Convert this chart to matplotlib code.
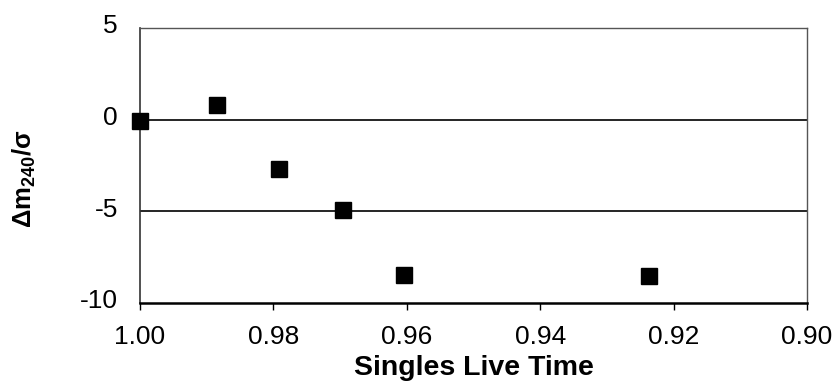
import matplotlib
matplotlib.use("Agg")
import matplotlib.pyplot as plt
import matplotlib.transforms as mtransforms

plt.rcParams['font.family'] = ['Liberation Sans', 'DejaVu Sans']
plt.rcParams['mathtext.fontset'] = 'custom'
plt.rcParams['mathtext.rm'] = 'Liberation Sans:bold'
plt.rcParams['mathtext.it'] = 'Liberation Sans:bold'
plt.rcParams['mathtext.bf'] = 'Liberation Sans:bold'

live_time = [1.000, 0.9885, 0.9792, 0.9696, 0.9604, 0.9237]
dm_sigma = [-0.05, 0.78, -2.70, -4.92, -8.45, -8.50]
x_ticks = [1.00, 0.98, 0.96, 0.94, 0.92, 0.90]
x_tick_labels = ["1.00", "0.98", "0.96", "0.94", "0.92", "0.90"]
y_ticks = [-10, -5, 0, 5]
y_tick_labels = ["-10", "-5", "0", "5"]

fig = plt.figure(figsize=(8.33, 3.83), dpi=100)
ax = fig.add_axes([140/833, 1-303/383, (807-140)/833, (303-28)/383])

for y in [0, -5]:
    ax.axhline(y, color='black', lw=1.2, zorder=1)

ax.plot(live_time, dm_sigma, linestyle='none', marker='s', markersize=12,
        color='black', clip_on=False, zorder=3)

ax.set_xlim(1.00, 0.90)
ax.set_ylim(-10, 5)
ax.set_xticks(x_ticks)
ax.set_xticklabels(x_tick_labels, fontsize=19)
ax.set_yticks(y_ticks)
ax.set_yticklabels(y_tick_labels, fontsize=19)
ax.tick_params(axis='x', direction='out', length=5, width=1, pad=11)
ax.tick_params(axis='y', length=0, pad=16)

offset = mtransforms.ScaledTranslation(0, 4/100, fig.dpi_scale_trans)
for lab in ax.get_yticklabels():
    lab.set_transform(lab.get_transform() + offset)

for side in ['top', 'right']:
    ax.spines[side].set_color('#555555')
    ax.spines[side].set_linewidth(1.0)
ax.spines['left'].set_color('#333333')
ax.spines['left'].set_linewidth(1.2)
ax.spines['bottom'].set_color('black')
ax.spines['bottom'].set_linewidth(1.8)

ax.set_xlabel('Singles Live Time', fontsize=20.5, fontweight='bold')
ax.xaxis.set_label_coords(0.5, -0.19)
ax.xaxis.label.set_va('top')
ax.set_ylabel(r'$\Delta m_{240}/\sigma$', fontsize=18.5)
ax.yaxis.set_label_coords((38 - 140) / 667, 0.45)

fig.savefig('out.png', dpi=100)
